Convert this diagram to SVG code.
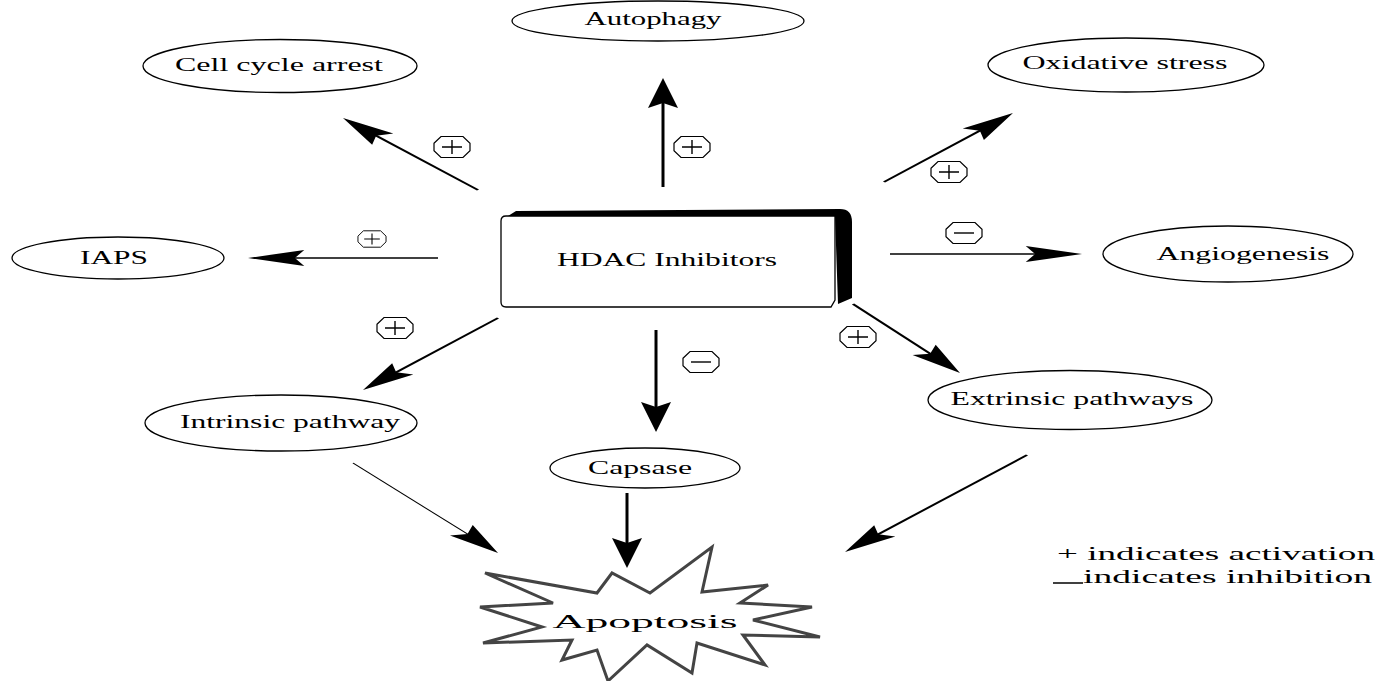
<svg xmlns="http://www.w3.org/2000/svg" width="1380" height="681" viewBox="0 0 1380 681">
<style>
.lbl{font-family:"Liberation Serif","Times New Roman",serif;font-size:18px;fill:#000;text-anchor:middle}
.ell{fill:#fff;stroke:#000;stroke-width:1.3}
.con{fill:none;stroke:#000;stroke-width:1.6;marker-end:url(#ah)}
.oct{fill:#fff;stroke:#000;stroke-width:1.2}
.sym{stroke:#000;stroke-width:1.4;fill:none}
</style>
<defs>
<marker id="ah" markerUnits="userSpaceOnUse" viewBox="-12 -10 34 20" markerWidth="34" markerHeight="20" refX="0" refY="0" orient="auto" overflow="visible">
<path d="M20,0 L-10,-8 L-5,0 L-10,8 Z" fill="#000"/>
</marker>
<g id="plus">
<polygon class="oct" points="-18,-3.7 -11,-10.5 11,-10.5 18,-3.7 18,3.7 11,10.5 -11,10.5 -18,3.7"/>
<path class="sym" d="M-10,0 H10 M0,-7 V7"/>
</g>
<g id="minus">
<polygon class="oct" points="-18,-3.7 -11,-10.5 11,-10.5 18,-3.7 18,3.7 11,10.5 -11,10.5 -18,3.7"/>
<path class="sym" d="M-10,0 H10"/>
</g>
</defs>
<rect width="1380" height="681" fill="#fff"/>

<g id="connectors">
<g transform="scale(1.875,1)">
<line class="con" x1="254.93" y1="190" x2="197.07" y2="132.14"/>
<line class="con" x1="353.6" y1="187" x2="353.6" y2="98"/>
<line class="con" x1="471.47" y1="182" x2="526.14" y2="127.17"/>
<line class="con" x1="233.6" y1="258" x2="152.27" y2="258"/>
<line class="con" x1="474.67" y1="254" x2="557.07" y2="254"/>
<line class="con" x1="265.6" y1="318" x2="207.74" y2="375.86"/>
<line class="con" x1="349.87" y1="330" x2="349.87" y2="412"/>
<line class="con" x1="454.93" y1="304" x2="499.25" y2="357.59"/>
<line class="con" style="stroke-width:0.8" x1="188.27" y1="463" x2="252.57" y2="537.83"/>
<line class="con" x1="334.4" y1="493" x2="334.4" y2="548"/>
<line class="con" x1="547.73" y1="455" x2="464.82" y2="537.86"/>
</g>
<use href="#plus" x="452" y="147"/>
<use href="#plus" x="692" y="147"/>
<use href="#plus" x="949" y="172"/>
<use href="#plus" transform="translate(372,239) scale(0.78)"/>
<use href="#minus" x="964" y="233"/>
<use href="#plus" x="395" y="328"/>
<use href="#minus" x="701" y="362"/>
<use href="#plus" x="858" y="337"/>
</g>

<g id="hdac">
<path d="M508,216 L516,211 L840,209 Q852,209 852,222 L852,298 L838,304 L835,216 Z" fill="#000"/>
<path d="M506,216 L835,216 L835,300 L831,307 L506,307 Q501,307 501,302 L501,221 Q501,216 506,216 Z" fill="#fff" stroke="#000" stroke-width="1.3"/>
<text class="lbl" x="667" y="266" font-size="19" textLength="220" lengthAdjust="spacingAndGlyphs">HDAC Inhibitors</text>
</g>

<g id="cellcycle">
<ellipse class="ell" cx="280" cy="66" rx="137" ry="26.5"/>
<text class="lbl" x="279" y="71" textLength="208" lengthAdjust="spacingAndGlyphs">Cell cycle arrest</text>
</g>
<g id="autophagy">
<ellipse class="ell" cx="658" cy="21" rx="146" ry="20"/>
<text class="lbl" x="653" y="25" textLength="137" lengthAdjust="spacingAndGlyphs">Autophagy</text>
</g>
<g id="oxidative">
<ellipse class="ell" cx="1126" cy="65" rx="138" ry="27"/>
<text class="lbl" x="1125" y="69" textLength="205" lengthAdjust="spacingAndGlyphs">Oxidative stress</text>
</g>
<g id="iaps">
<ellipse class="ell" cx="118" cy="258" rx="106" ry="21"/>
<text class="lbl" x="114" y="264" textLength="68" lengthAdjust="spacingAndGlyphs">IAPS</text>
</g>
<g id="angiogenesis">
<ellipse class="ell" cx="1228" cy="254" rx="125" ry="28"/>
<text class="lbl" x="1243" y="260" textLength="173" lengthAdjust="spacingAndGlyphs">Angiogenesis</text>
</g>
<g id="intrinsic">
<ellipse class="ell" cx="281" cy="423" rx="136" ry="28"/>
<text class="lbl" x="290" y="428" textLength="220" lengthAdjust="spacingAndGlyphs">Intrinsic pathway</text>
</g>
<g id="extrinsic">
<ellipse class="ell" cx="1070" cy="400" rx="142" ry="29.5"/>
<text class="lbl" x="1072" y="405" textLength="243" lengthAdjust="spacingAndGlyphs">Extrinsic pathways</text>
</g>
<g id="capsase">
<ellipse class="ell" cx="645" cy="468" rx="95" ry="20"/>
<text class="lbl" x="640" y="474" textLength="104" lengthAdjust="spacingAndGlyphs">Capsase</text>
</g>

<g id="apoptosis">
<polygon points="485,573 597,593 612,573 650,593 712,547 702,592 768,585 740,603 812,607 753,620 820,637 743,635 765,665 697,643 692,673 647,645 608,681 597,650 562,660 572,640 483,643 542,627 480,607 553,603" fill="#fff" stroke="#444" stroke-width="3" stroke-linejoin="miter"/>
<text class="lbl" x="645" y="628" font-size="27" textLength="185" lengthAdjust="spacingAndGlyphs">Apoptosis</text>
</g>

<g id="legend">
<text class="lbl" x="1216" y="560" font-size="20" textLength="318" lengthAdjust="spacingAndGlyphs">+ indicates activation</text>
<line x1="1053" y1="583" x2="1083" y2="583" stroke="#000" stroke-width="1.5"/>
<text class="lbl" x="1227.5" y="583" font-size="20" textLength="289" lengthAdjust="spacingAndGlyphs">indicates inhibition</text>
</g>
</svg>
